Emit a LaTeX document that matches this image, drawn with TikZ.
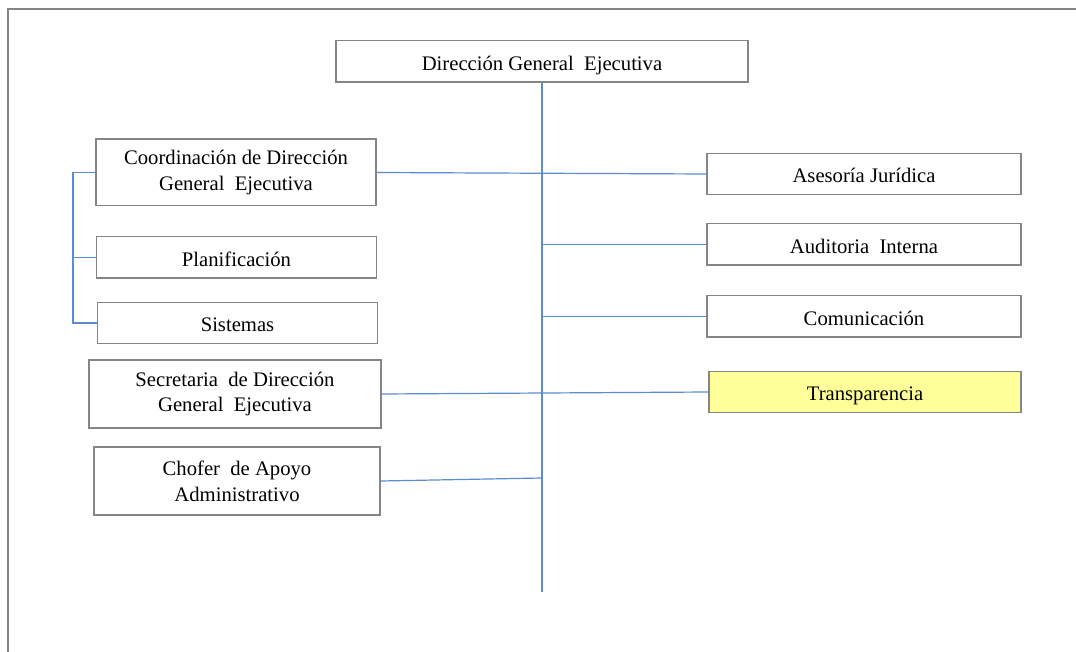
\documentclass[tikz,border=0pt]{standalone}
\usepackage{fontspec}
\setmainfont{Liberation Serif}
\usetikzlibrary{positioning}
\definecolor{linkblue}{HTML}{5B8BD0}
\definecolor{boxgray}{HTML}{858585}
\definecolor{paleyellow}{HTML}{FFFF99}
\tikzset{unit/.style={draw=boxgray, line width=1pt, fill=white, align=center, inner sep=0pt, font=\fontsize{15.5}{19.3}\selectfont}}
\tikzset{oneline/.style={text height=13pt, text depth=0pt}}
\tikzset{lunit/.style={unit, minimum width=210pt, minimum height=31pt}}
\tikzset{runit/.style={unit, oneline, minimum width=235.5pt, minimum height=31pt}}
\tikzset{link/.style={draw=linkblue, line width=0.9pt}}

\begin{document}
\begin{tikzpicture}[x=0.75pt, y=-0.75pt]
    \useasboundingbox (0,0) rectangle (1076,652);
    \draw[boxgray, line width=1pt] (1076,9) -- (8,9) -- (8,652);

    % direction and spine
    \node[unit, oneline, minimum width=309pt, minimum height=31pt] (top) at (542,61.5) {Dirección General\ \ Ejecutiva};
    \coordinate (spineend) at (542,592);
    \coordinate (brk) at (73,0);
    \coordinate (chofjoin) at (542,478);

    % left side
    \node[lunit, minimum height=50pt] (coord) at (236,172.5) {Coordinación de Dirección\\General\ \ Ejecutiva};
    \node[lunit, oneline] (plan) at (236.5,257.5) {Planificación};
    \node[lunit, oneline] (sist) at (237.5,323) {Sistemas};
    \node[lunit, minimum width=219pt, minimum height=51pt] (secr) at (235,394) {Secretaria\ \ de Dirección\\General\ \ Ejecutiva};
    \node[lunit, minimum width=214.5pt, minimum height=51pt] (chofer) at (237,481) {Chofer\ \ de Apoyo\\Administrativo};

    % right side
    \node[runit] (aseso) at (864,174) {Asesoría Jurídica};
    \node[runit] (audit) at (864,244.5) {Auditoria\ \ Interna};
    \node[runit] (comun) at (864,316.5) {Comunicación};
    \node[runit, minimum width=234pt, fill=paleyellow] (transp) at (865,392) {Transparencia};

    % connectors
    \draw[link] (top.south) -- (spineend);
    \draw[link] (coord.east) -- (aseso.west);
    \draw[link] (audit.west -| top.south) -- (audit.west);
    \draw[link] (comun.west -| top.south) -- (comun.west);
    \draw[link] (secr.east) -- (transp.west);
    \draw[link] (chofer.east) -- (chofjoin);
    \draw[link] (coord.west) -- (coord.west -| brk) -- (sist.west -| brk) -- (sist.west);
    \draw[link] (plan.west -| brk) -- (plan.west);
\end{tikzpicture}
\end{document}
